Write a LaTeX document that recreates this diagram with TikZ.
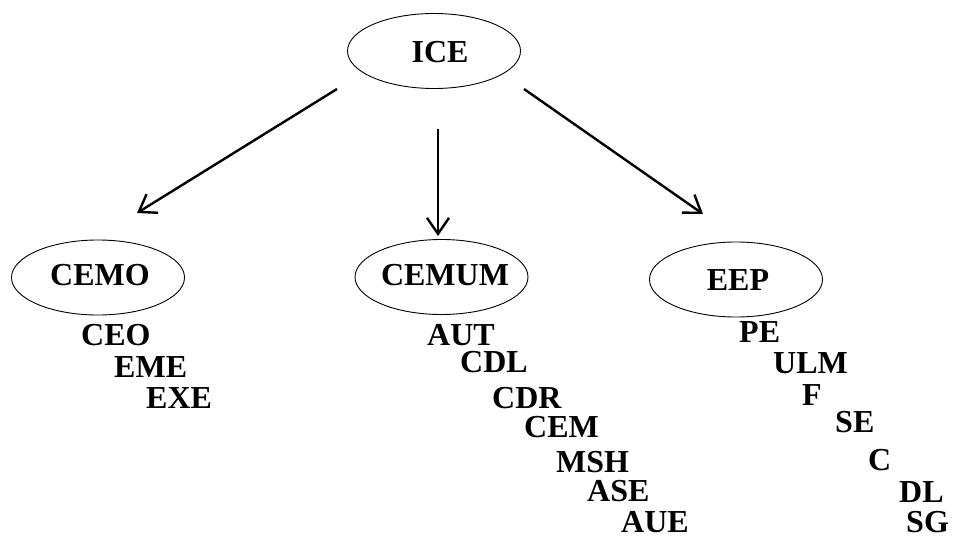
\documentclass[tikz,border=0pt]{standalone}
\usepackage{fontspec}
\setmainfont{Liberation Serif}
\usetikzlibrary{shapes.geometric,arrows.meta}
\begin{document}
\begin{tikzpicture}[x=1pt,y=-1pt,
  big/.style={font=\bfseries\fontsize{32}{32}\selectfont},
  oval/.style={draw, ellipse, line width=0.9pt, minimum width=173pt, minimum height=75pt, inner sep=0pt},
  item/.style={big, anchor=base west, inner sep=0pt},
  conn/.style={line width=2.4pt, -{Straight Barb[length=16pt,width=22pt,line width=2.4pt]}}
]
\useasboundingbox (0,0) rectangle (977,538);

\node[oval, label={[big, xshift=6pt, yshift=-1pt]center:ICE}] (ice) at (434,51) {};
\node[oval, label={[big, xshift=2pt, yshift=2.5pt]center:CEMO}] (cemo) at (98,277.5) {};
\node[oval, label={[big, xshift=3.5pt, yshift=2pt]center:CEMUM}] (cemum) at (441.5,277) {};
\node[oval, label={[big, xshift=2pt, yshift=-1pt]center:EEP}] (eep) at (736,279.5) {};

\coordinate (s1) at (337,89);
\coordinate (t1) at (137,213);
\coordinate (s2) at (438,129);
\coordinate (t2) at (438,236);
\coordinate (s3) at (524,89);
\coordinate (t3) at (703,214);
\draw[conn] (s1) -- (t1);
\draw[conn] (s2) -- (t2);
\draw[conn] (s3) -- (t3);

% CEMO items
\node[item] (ceo) at (81,345) {CEO};
\node[item] (eme) at (114,377) {EME};
\node[item] (exe) at (146,408) {EXE};

% CEMUM items
\node[item] (aut) at (427,345) {AUT};
\node[item] (cdl) at (460,372) {CDL};
\node[item] (cdr) at (492,408) {CDR};
\node[item] (cem) at (524,437) {CEM};
\node[item] (msh) at (556,472) {MSH};
\node[item] (ase) at (587,501) {ASE};
\node[item] (aue) at (621,532) {AUE};

% EEP items
\node[item] (pe) at (739,342) {PE};
\node[item] (ulm) at (773,373) {ULM};
\node[item] (f) at (802,405) {F};
\node[item] (se) at (835,432) {SE};
\node[item] (c) at (868,470) {C};
\node[item] (dl) at (899,502) {DL};
\node[item] (sg) at (906,532) {SG};
\end{tikzpicture}
\end{document}
